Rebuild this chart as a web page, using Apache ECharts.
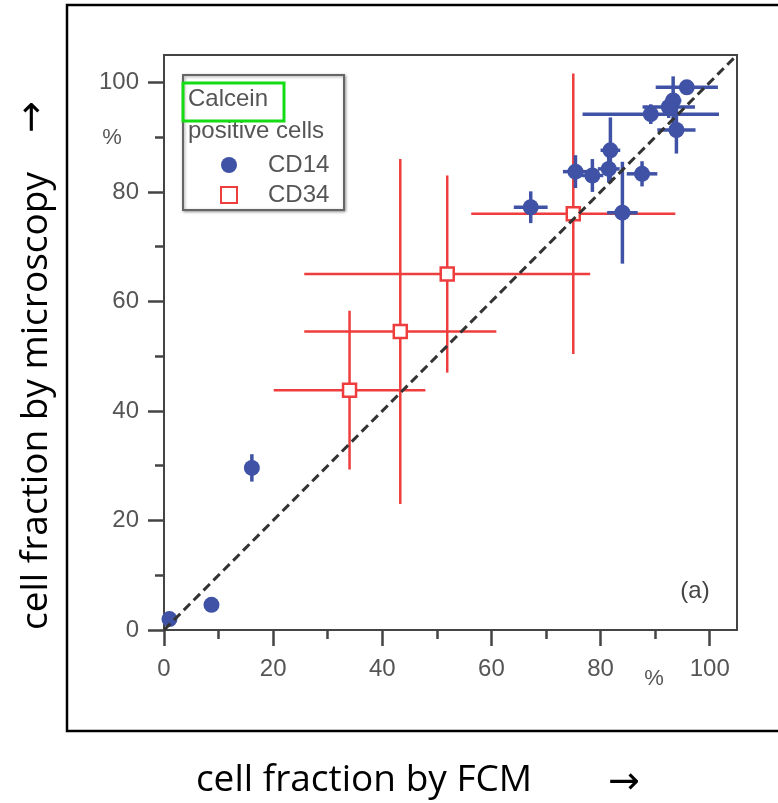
<!DOCTYPE html>
<html>
<head>
<meta charset="utf-8">
<title>cell fraction by microscopy vs FCM</title>
<script src="https://cdn.jsdelivr.net/npm/echarts@6/dist/echarts.min.js"></script>
<style>
html,body{margin:0;padding:0;background:#fff}
#chart{width:778px;height:803px}
</style>
</head>
<body>
<div id="chart"></div>
<script>
// CD14 (blue dots): x = FCM, y = microscopy, with error bars
var cd14X    = [1,   8.7, 16.1, 67.2, 75.4, 78.5, 81.5, 81.8, 87.6, 84.0, 89.2, 92.5, 93.3, 95.8, 93.9];
var cd14Y    = [2,   4.6, 29.6, 77.2, 83.7, 83.0, 84.2, 87.6, 83.3, 76.2, 94.2, 95.5, 96.7, 99.1, 91.3];
var cd14Xerr = [0,   0,   0,    3.1,  2.3,  2.0,  2.0,  1.8,  2.8,  2.8,  12.5, 4.8,  1.5,  5.7,  3.5];
var cd14Yerr = [0,   0,   2.5,  2.9,  3.0,  3.0,  2.5,  6.0,  2.3,  9.3,  1.8,  2.0,  4.4,  1.0,  4.3];

// CD34 (red open squares)
var cd34X    = [34.0, 43.3, 51.9, 75.0];
var cd34Y    = [43.8, 54.5, 65.0, 76.0];
var cd34Xerr = [13.9, 17.6, 26.2, 18.7];
var cd34Yerr = [14.5, 31.5, 18.0, 25.6];

var majorTicks = [0, 20, 40, 60, 80, 100];
var minorTicks = [10, 30, 50, 70, 90];

var blue = '#3f52a5';
var red = '#ef3d3d';
var axisColor = '#444';
var labelFont = 'Liberation Sans, Arial, sans-serif';
var titleFont = 'Open Sans, Noto Sans, sans-serif';

function zip(xs, ys) {
  return xs.map(function (x, i) { return [x, ys[i]]; });
}

function errSeries(name, xs, ys, xe, ye, color, w, z) {
  return {
    type: 'custom',
    name: name,
    z: z,
    silent: true,
    encode: {x: 0, y: 1},
    data: xs.map(function (x, i) { return [x, ys[i], xe[i], ye[i]]; }),
    renderItem: function (params, api) {
      var x = api.value(0), y = api.value(1), dx = api.value(2), dy = api.value(3);
      var kids = [];
      if (dx > 0) {
        var a = api.coord([x - dx, y]), b = api.coord([x + dx, y]);
        kids.push({type: 'line', shape: {x1: a[0], y1: a[1], x2: b[0], y2: b[1]},
          style: {stroke: color, lineWidth: w}});
      }
      if (dy > 0) {
        var c = api.coord([x, y - dy]), d = api.coord([x, y + dy]);
        kids.push({type: 'line', shape: {x1: c[0], y1: c[1], x2: d[0], y2: d[1]},
          style: {stroke: color, lineWidth: w}});
      }
      return {type: 'group', children: kids};
    }
  };
}

function mainAxis(isX) {
  return {
    type: 'value', min: 0, max: 105,
    axisLine: {show: true, onZero: false, lineStyle: {color: axisColor, width: 2}},
    axisTick: {show: true, length: 16, customValues: majorTicks, lineStyle: {color: axisColor, width: 2.5}},
    axisLabel: {customValues: majorTicks, fontSize: 24, color: '#555', fontFamily: labelFont, margin: isX ? 27 : 25},
    splitLine: {show: false}
  };
}
function minorAxis(pos) {
  return {
    type: 'value', min: 0, max: 105, position: pos,
    axisLine: {show: false},
    axisTick: {show: true, length: 9, customValues: minorTicks, lineStyle: {color: axisColor, width: 2.5}},
    axisLabel: {show: false},
    splitLine: {show: false}
  };
}

var chart = echarts.init(document.getElementById('chart'));
chart.setOption({
  animation: false,
  grid: {left: 164, right: 41, top: 55, bottom: 173, show: true, borderColor: axisColor, borderWidth: 2},
  xAxis: [mainAxis(true), minorAxis('bottom')],
  yAxis: [mainAxis(false), minorAxis('left')],
  legend: {
    data: ['CD14', 'CD34'], orient: 'vertical', left: 220, top: 153, padding: 0,
    itemWidth: 16, itemHeight: 16, itemGap: 6, selectedMode: false, z: 20,
    textStyle: {fontSize: 24, color: '#555', fontFamily: labelFont, lineHeight: 24, padding: [0, 0, 0, 26]}
  },
  series: [
    errSeries('CD34 err', cd34X, cd34Y, cd34Xerr, cd34Yerr, red, 2.5, 2),
    {
      type: 'scatter', name: 'CD34', z: 3, data: zip(cd34X, cd34Y),
      symbol: 'rect', symbolSize: 13,
      itemStyle: {color: '#fff', borderColor: red, borderWidth: 2.5, opacity: 1}
    },
    errSeries('CD14 err', cd14X, cd14Y, cd14Xerr, cd14Yerr, blue, 3.5, 4),
    {
      type: 'scatter', name: 'CD14', z: 5, data: zip(cd14X, cd14Y),
      symbol: 'circle', symbolSize: 16,
      itemStyle: {color: blue, opacity: 1}
    },
    {
      type: 'line', name: 'identity', z: 10, silent: true,
      data: [[0, 0], [105, 105]], symbol: 'none',
      lineStyle: {color: '#333', width: 3, type: [9, 5]}
    }
  ],
  graphic: [
    {type: 'rect', z: 0, shape: {x: 67, y: 5, width: 730, height: 726},
      style: {fill: 'none', stroke: '#000', lineWidth: 2.5}},
    {type: 'rect', z: 15, shape: {x: 183, y: 75, width: 161, height: 135},
      style: {fill: '#fff', stroke: '#666', lineWidth: 2, shadowBlur: 3, shadowColor: 'rgba(0,0,0,0.35)', shadowOffsetX: 1, shadowOffsetY: 1}},
    {type: 'text', z: 16, left: 188, top: 87,
      style: {text: 'Calcein', fontSize: 24, fill: '#555', fontFamily: labelFont}},
    {type: 'text', z: 16, left: 188, top: 119,
      style: {text: 'positive cells', fontSize: 24, fill: '#555', fontFamily: labelFont}},
    {type: 'rect', z: 17, shape: {x: 183, y: 83, width: 101, height: 38},
      style: {fill: 'none', stroke: '#14dc14', lineWidth: 3}},
    {type: 'text', z: 16, x: 112, y: 138,
      style: {text: '%', fontSize: 22, fill: '#555', fontFamily: labelFont, align: 'center', verticalAlign: 'middle'}},
    {type: 'text', z: 16, x: 654, y: 679,
      style: {text: '%', fontSize: 22, fill: '#555', fontFamily: labelFont, align: 'center', verticalAlign: 'middle'}},
    {type: 'text', z: 16, x: 695, y: 591,
      style: {text: '(a)', fontSize: 24, fill: '#444', fontFamily: labelFont, align: 'center', verticalAlign: 'middle'}},
    {type: 'text', z: 16, x: 364, y: 780,
      style: {text: 'cell fraction by FCM', fontSize: 37, fill: '#000', fontFamily: titleFont, align: 'center', verticalAlign: 'middle'}},
    {type: 'text', z: 16, x: 624, y: 783,
      style: {text: '→', fontSize: 38, fill: '#000', fontFamily: 'DejaVu Sans, sans-serif', align: 'center', verticalAlign: 'middle'}},
    {type: 'text', z: 16, x: 36, y: 401, rotation: Math.PI / 2,
      style: {text: 'cell fraction by microscopy', fontSize: 37, fill: '#000', fontFamily: titleFont, align: 'center', verticalAlign: 'middle'}},
    {type: 'text', z: 16, x: 33, y: 117, rotation: Math.PI / 2,
      style: {text: '→', fontSize: 38, fill: '#000', fontFamily: 'DejaVu Sans, sans-serif', align: 'center', verticalAlign: 'middle'}}
  ]
});
</script>
</body>
</html>
